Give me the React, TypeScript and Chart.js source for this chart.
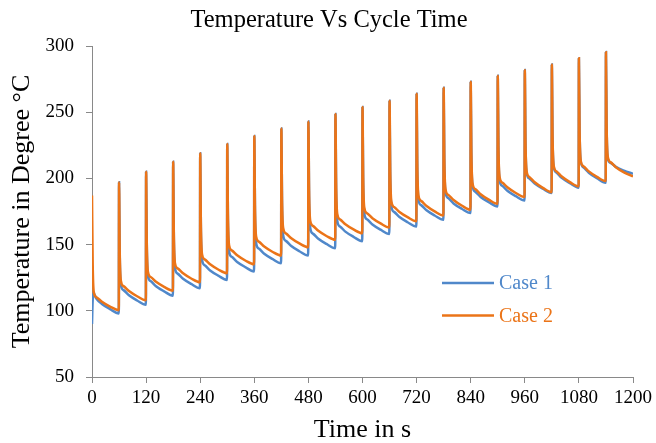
import React, { useEffect, useRef } from "react";
import { Chart, registerables } from "chart.js";

Chart.register(...registerables);

const FONT = '"Liberation Serif", "Times New Roman", Times, serif';

const chartTitle = "Temperature Vs Cycle Time";
const xAxisTitle = "Time in s";
const yAxisTitle = "Temperature in Degree °C";
const seriesNames = ["Case 1", "Case 2"];
const seriesColors = ["#5088CA", "#EB7418"];

const xTicks = [0, 120, 240, 360, 480, 600, 720, 840, 960, 1080, 1200];
const yTicks = [50, 100, 150, 200, 250, 300];

// time in seconds (7 samples per 60 s cycle)
const timeS = [
  0, 1.5, 4, 10, 22, 40, 59.5,
  60, 61.5, 64, 70, 82, 100, 119.5,
  120, 121.5, 124, 130, 142, 160, 179.5,
  180, 181.5, 184, 190, 202, 220, 239.5,
  240, 241.5, 244, 250, 262, 280, 299.5,
  300, 301.5, 304, 310, 322, 340, 359.5,
  360, 361.5, 364, 370, 382, 400, 419.5,
  420, 421.5, 424, 430, 442, 460, 479.5,
  480, 481.5, 484, 490, 502, 520, 539.5,
  540, 541.5, 544, 550, 562, 580, 599.5,
  600, 601.5, 604, 610, 622, 640, 659.5,
  660, 661.5, 664, 670, 682, 700, 719.5,
  720, 721.5, 724, 730, 742, 760, 779.5,
  780, 781.5, 784, 790, 802, 820, 839.5,
  840, 841.5, 844, 850, 862, 880, 899.5,
  900, 901.5, 904, 910, 922, 940, 959.5,
  960, 961.5, 964, 970, 982, 1000, 1019.5,
  1020, 1021.5, 1024, 1030, 1042, 1060, 1079.5,
  1080, 1081.5, 1084, 1090, 1102, 1120, 1139.5,
  1140, 1141.5, 1144, 1150, 1162, 1180, 1200,
];

const case1 = [
  90, 108, 113, 109.0, 105.2, 101.3, 98,
  197, 143.1, 120, 115.6, 111.7, 107.8, 104.5,
  205, 150.3, 126.9, 122.5, 118.6, 114.7, 111.4,
  212.5, 156.5, 132.5, 128.1, 124.2, 120.3, 117,
  219, 162.9, 138.8, 134.4, 130.5, 126.6, 123.3,
  226, 169.4, 145.2, 140.8, 136.9, 133.0, 129.7,
  232, 175.6, 151.4, 147.0, 143.1, 139.2, 135.9,
  237.6, 181.3, 157.2, 152.8, 148.9, 145.0, 141.7,
  243, 186.8, 162.7, 158.3, 154.4, 150.5, 147.2,
  248.7, 192.3, 168.1, 163.7, 159.8, 155.9, 152.6,
  254, 197.7, 173.5, 169.1, 165.2, 161.3, 158,
  258.6, 203.0, 179.1, 174.7, 170.8, 166.9, 163.6,
  264, 208.2, 184.2, 179.8, 175.9, 172.0, 168.7,
  268.4, 213.2, 189.6, 185.2, 181.1, 177.1, 173.8,
  273, 218.0, 194.4, 190.0, 186.0, 182.1, 178.8,
  277.5, 222.4, 198.8, 194.4, 190.5, 186.6, 183.3,
  281.8, 227.6, 204.3, 200.0, 196.1, 192.2, 189,
  286, 232.1, 209, 204.5, 200.4, 196.4, 193,
  290.7, 236.3, 213, 208.4, 204.3, 200.1, 196.7,
  295.5, 239, 215, 211.8, 208.7, 205.8, 203.5,
];

const case2 = [
  187, 135.9, 114, 110.2, 106.8, 103.2, 100.5,
  197, 145.0, 122.7, 118.6, 114.9, 111.0, 108,
  205, 152.2, 129.5, 125.5, 121.9, 118.1, 115.2,
  212.5, 159.1, 136, 132.0, 128.3, 124.4, 121.5,
  219, 165.7, 142.8, 138.8, 135.1, 131.2, 128.3,
  226, 172.5, 149.6, 145.6, 141.9, 138.0, 135.1,
  232, 178.9, 156.2, 152.2, 148.5, 144.6, 141.7,
  237.6, 185.0, 162.5, 158.5, 154.8, 150.9, 148,
  243, 190.6, 168.1, 164.1, 160.4, 156.5, 153.6,
  248.7, 195.8, 173.1, 169.1, 165.4, 161.5, 158.6,
  254, 200.7, 177.8, 173.7, 169.9, 166.0, 163,
  258.6, 205.3, 182.5, 178.4, 174.6, 170.7, 167.7,
  264, 210.6, 187.2, 183.0, 179.1, 175.1, 172,
  268.4, 214.9, 192, 187.6, 183.7, 179.5, 176.3,
  273, 219.4, 196.4, 192.0, 188.1, 184.0, 180.8,
  277.5, 224.1, 201.2, 196.9, 193.1, 189.0, 185.9,
  281.8, 228.4, 205.5, 201.1, 197.1, 192.9, 189.6,
  286, 232.7, 209.8, 205.4, 201.4, 197.2, 194,
  290.7, 236.7, 213.5, 209.2, 205.3, 201.2, 198,
  295.2, 240.1, 216.5, 212.3, 208.5, 204.6, 201.5,
];

const AXIS_COLOR = "#898989";

const overlayPlugin = {
  id: "overlay",
  afterDraw(chart: any) {
    const ctx = chart.ctx as CanvasRenderingContext2D;
    ctx.save();
    // title
    ctx.font = `24.5px ${FONT}`;
    ctx.fillStyle = "#000";
    ctx.textAlign = "center";
    ctx.textBaseline = "middle";
    ctx.fillText(chartTitle, 329, 21);
    // legend inside plot
    chart.data.datasets.forEach((ds: any, i: number) => {
      const y = 283 + i * 32.5;
      ctx.strokeStyle = ds.borderColor;
      ctx.lineWidth = 2.5;
      ctx.beginPath();
      ctx.moveTo(442, y);
      ctx.lineTo(494, y);
      ctx.stroke();
      ctx.fillStyle = ds.borderColor;
      ctx.textAlign = "left";
      ctx.textBaseline = "middle";
      ctx.font = `20px ${FONT}`;
      ctx.fillText(ds.label, 499, y + 1);
    });
    ctx.restore();
  },
};

export default function App() {
  const canvasRef = useRef<HTMLCanvasElement | null>(null);

  useEffect(() => {
    document.body.style.margin = "0";
    const canvas = canvasRef.current;
    if (!canvas) return;
    const makePts = (ys: number[]) => timeS.map((t, i) => ({ x: t, y: ys[i] }));
    const chart = new Chart(canvas, {
      type: "line",
      data: {
        datasets: [
          {
            label: seriesNames[0],
            data: makePts(case1),
            borderColor: seriesColors[0],
            backgroundColor: seriesColors[0],
            borderWidth: 2.5,
            pointRadius: 0,
            cubicInterpolationMode: "monotone",
            order: 1,
          },
          {
            label: seriesNames[1],
            data: makePts(case2),
            borderColor: seriesColors[1],
            backgroundColor: seriesColors[1],
            borderWidth: 2.5,
            pointRadius: 0,
            cubicInterpolationMode: "monotone",
            order: 0,
          },
        ],
      },
      options: {
        animation: false,
        responsive: true,
        maintainAspectRatio: false,
        layout: { padding: { top: 46, right: 23, left: 0, bottom: 0 } },
        plugins: {
          legend: { display: false },
          title: { display: false },
          tooltip: { enabled: false },
        },
        scales: {
          x: {
            type: "linear",
            min: 0,
            max: 1200,
            afterBuildTicks: (s: any) => {
              s.ticks = xTicks.map((v) => ({ value: v }));
            },
            afterFit: (s: any) => {
              s.height = 66;
            },
            grid: {
              display: true,
              drawOnChartArea: false,
              drawTicks: true,
              tickLength: 6,
              color: AXIS_COLOR,
            },
            border: { display: true, color: AXIS_COLOR, width: 1 },
            ticks: {
              color: "#000",
              font: { family: FONT, size: 19 },
              padding: 4,
              maxRotation: 0,
              autoSkip: false,
              callback: (v: any) => String(v),
            },
            title: {
              display: true,
              text: xAxisTitle,
              color: "#000",
              font: { family: FONT, size: 26, lineHeight: 1 },
              padding: { top: 0, bottom: 0 },
            },
          },
          y: {
            type: "linear",
            min: 50,
            max: 300,
            afterBuildTicks: (s: any) => {
              s.ticks = yTicks.map((v) => ({ value: v }));
            },
            afterFit: (s: any) => {
              s.width = 92;
            },
            grid: {
              display: true,
              drawOnChartArea: false,
              drawTicks: true,
              tickLength: 6,
              color: AXIS_COLOR,
            },
            border: { display: true, color: AXIS_COLOR, width: 1 },
            ticks: {
              color: "#000",
              font: { family: FONT, size: 19 },
              padding: 12,
              autoSkip: false,
              callback: (v: any) => String(v),
            },
            title: {
              display: true,
              text: yAxisTitle,
              color: "#000",
              font: { family: FONT, size: 26, lineHeight: 1 },
              padding: { top: 9, bottom: 0 },
            },
          },
        },
      },
      plugins: [overlayPlugin],
    });
    return () => chart.destroy();
  }, []);

  return (
    <div style={{ width: 656, height: 443, position: "relative" }}>
      <canvas ref={canvasRef} />
    </div>
  );
}
